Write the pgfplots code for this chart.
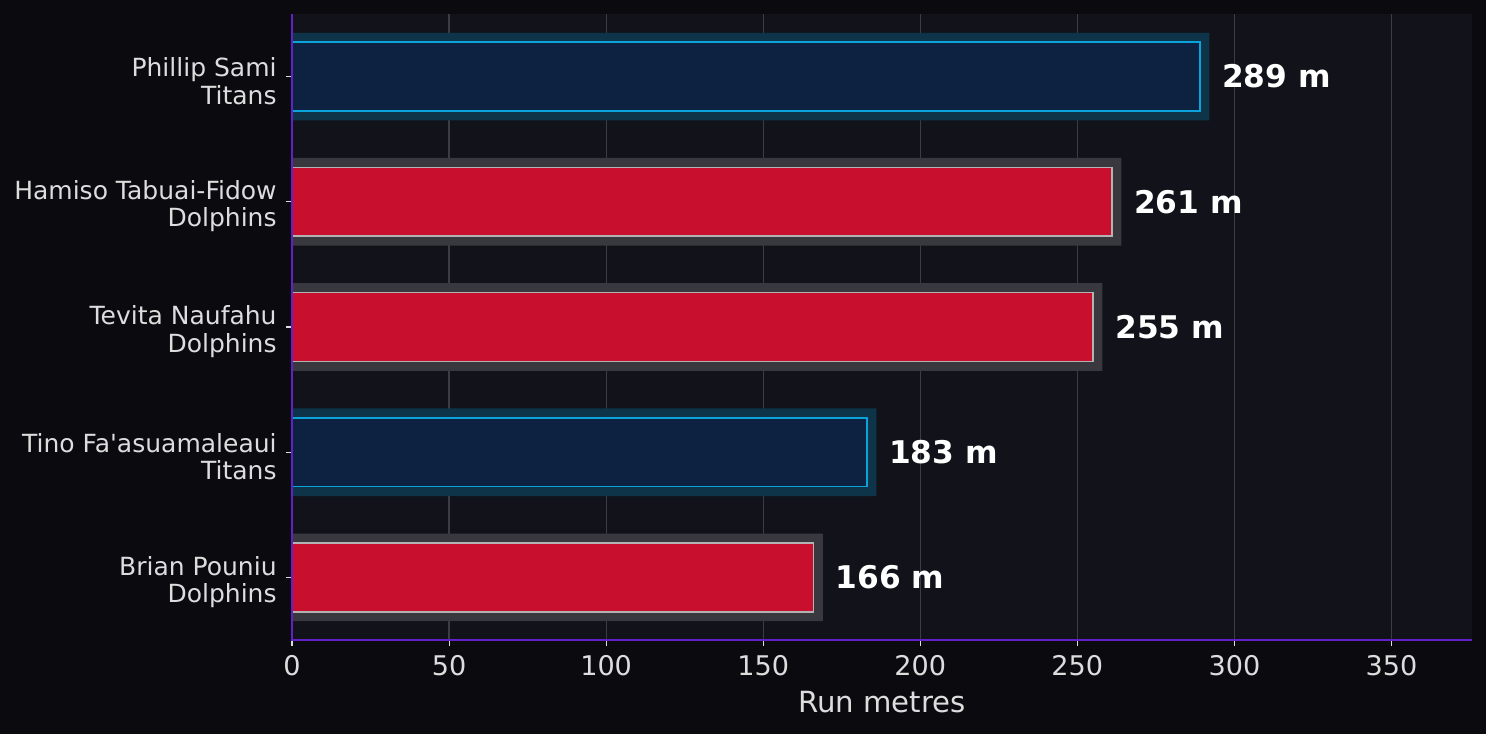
\documentclass[border=0pt]{standalone}
\usepackage{fontspec}
\defaultfontfeatures[\rmfamily,\sffamily]{}
\setmainfont{DejaVu Sans}
\usepackage{pgfplots}
\pgfplotsset{compat=1.18}
\definecolor{outerbg}{HTML}{0B0B0F}
\definecolor{axbg}{HTML}{12131A}
\definecolor{spine}{HTML}{6022C8}
\definecolor{gridc}{HTML}{3C3D44}
\definecolor{titfill}{HTML}{0D2240}
\definecolor{titedge}{HTML}{0AA3DB}
\definecolor{titglow}{HTML}{0E3449}
\definecolor{dolfill}{HTML}{C8102E}
\definecolor{doledge}{HTML}{B3B3B3}
\definecolor{dolglow}{HTML}{38383E}
\definecolor{txt}{HTML}{DDDDDD}
\begin{document}
\begin{tikzpicture}
\fill[outerbg] (0,0) rectangle (713.28pt,352.32pt);
\begin{axis}[
  at={(140.16pt,45.12pt)}, anchor=south west,
  scale only axis, width=566.5pt, height=300.48pt,
  xmin=0, xmax=375.7, ymin=-0.5, ymax=4.5,
  clip mode=individual,
  axis background/.style={fill=axbg},
  axis line style={draw=none},
  xtick={0,50,...,350}, ytick={0,1,2,3,4},
  yticklabels={{Brian Pouniu\\Dolphins},{Tino Fa'asuamaleaui\\Titans},{Tevita Naufahu\\Dolphins},{Hamiso Tabuai-Fidow\\Dolphins},{Phillip Sami\\Titans}},
  yticklabel style={align=right, font=\fontsize{12}{13.15}\selectfont, text=txt, inner sep=0pt, anchor=east, xshift=-4.3pt, yshift=-2.2pt},
  xticklabel style={font=\fontsize{13}{15.6}\selectfont, text=txt, yshift=-1pt},
  /pgf/number format/assume math mode=true,
  xtick pos=bottom, ytick pos=left,
  tick align=outside, major tick length=2.9pt,
  tick style={draw=txt, line width=0.5pt},
  xmajorgrids, grid style={draw=gridc, line width=0.6pt},
  xlabel={Run metres},
  xlabel style={font=\fontsize{14}{16.8}\selectfont, text=txt, at={(axis description cs:0.5,0)}, anchor=base, yshift=-34.9pt},
  point meta=x,
]
\addplot[xbar, bar shift=0pt, bar width=0.7, fill=titglow, draw=none] coordinates {(292,4) (186,1)};
\addplot[xbar, bar shift=0pt, bar width=0.7, fill=dolglow, draw=none] coordinates {(264,3) (258,2) (169,0)};
\addplot[xbar, bar shift=0pt, bar width=0.55, fill=titfill, draw=titedge, line width=0.8pt,
  nodes near coords={\pgfmathprintnumber{\pgfplotspointmeta} m},
  every node near coord/.append style={font=\bfseries\fontsize{15}{18}\selectfont, text=white, inner sep=0pt, anchor=west, xshift=10.3pt}]
  coordinates {(289,4) (183,1)};
\addplot[xbar, bar shift=0pt, bar width=0.55, fill=dolfill, draw=doledge, line width=0.8pt,
  nodes near coords={\pgfmathprintnumber{\pgfplotspointmeta} m},
  every node near coord/.append style={font=\bfseries\fontsize{15}{18}\selectfont, text=white, inner sep=0pt, anchor=west, xshift=10.3pt}]
  coordinates {(261,3) (255,2) (166,0)};
\draw[spine, line width=0.8pt] (rel axis cs:0,1) -- (rel axis cs:0,0) -- (rel axis cs:1,0);
\end{axis}
\pgfresetboundingbox
\path (0,0) rectangle (713.28pt,352.32pt);
\end{tikzpicture}
\end{document}
